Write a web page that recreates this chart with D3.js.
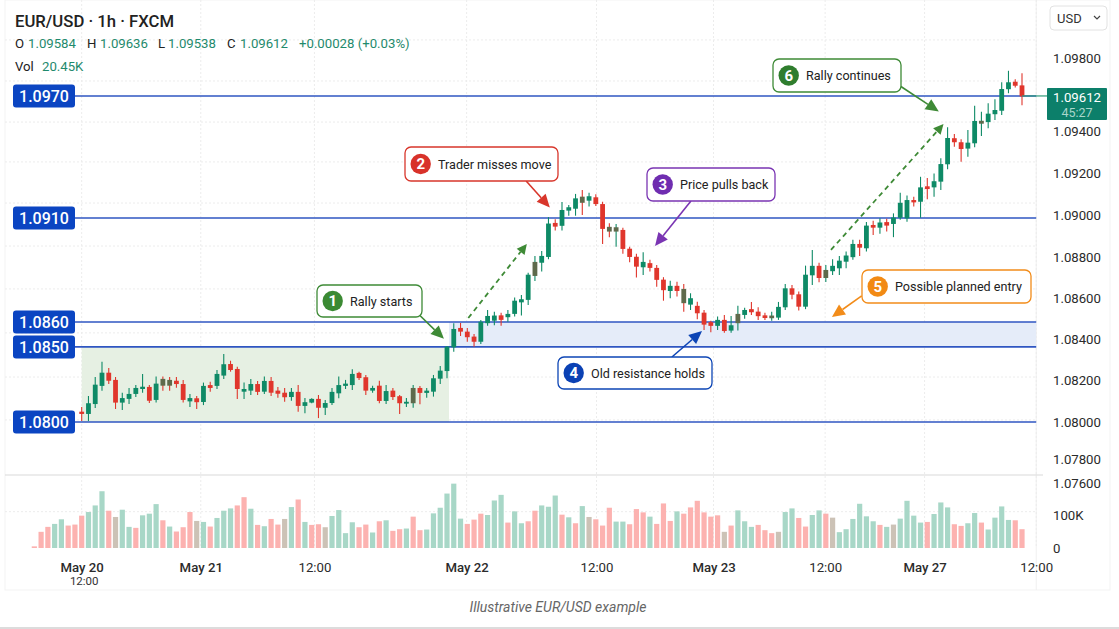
<!DOCTYPE html>
<html>
<head>
<meta charset="utf-8">
<script src="https://cdn.jsdelivr.net/npm/d3@7"></script>
<style>
  html, body { margin: 0; padding: 0; background: #fff; }
  svg { display: block; font-family: Roboto, sans-serif; }
</style>
</head>
<body>
<div id="graph"></div>
<script>
// candle prices are points above 1.08000 (1 point = 0.00001)
var basePrice = 1.08;

var candleOpen = [50,39,87,175,239,204,94,112,136,160,
  170,107,209,204,200,184,100,115,97,179,
  175,225,281,257,147,152,184,147,199,152,
  142,121,146,78,94,112,69,92,139,175,
  179,238,217,152,176,102,152,125,89,91,
  165,141,147,210,247,362,456,438,414,389,
  479,491,517,508,524,580,592,708,772,800,
  965,951,1024,1033,1090,1071,1087,1055,946,923,
  931,840,801,750,770,747,690,635,660,645,
  569,563,530,484,466,495,443,479,519,547,
  535,517,503,506,556,648,619,559,711,757,
  698,731,745,777,799,863,842,955,942,969,
  960,990,987,1074,1066,1139,1134,1161,1243,1366,
  1347,1317,1342,1440,1449,1492,1511,1629,1670,1650];

var candleClose = [39,91,181,239,200,94,116,136,165,171,
  103,186,176,176,184,107,116,96,175,165,
  233,280,252,160,160,184,146,199,142,137,
  120,146,78,96,112,69,92,146,179,186,
  233,213,152,165,102,150,121,91,98,165,
  141,152,212,249,365,451,438,411,389,486,
  514,516,495,524,588,595,714,776,805,962,
  947,1027,1040,1082,1061,1092,1055,936,923,944,
  839,800,753,776,747,689,639,660,635,576,
  600,527,472,466,495,441,469,524,543,532,
  513,504,516,558,648,617,559,714,757,698,
  737,757,782,807,863,845,952,942,967,952,
  991,1061,1074,1063,1134,1126,1163,1244,1367,1347,
  1315,1345,1455,1456,1495,1515,1630,1667,1648,1590];

var candleHigh = [73,126,218,292,262,218,142,165,179,233,
  179,220,220,218,218,204,136,126,191,195,
  252,330,297,268,191,209,199,220,218,170,
  165,165,179,116,115,131,107,165,220,204,
  256,244,228,176,200,179,165,131,116,179,
  175,165,228,272,369,479,480,456,427,495,
  543,535,530,543,604,616,724,805,829,993,
  983,1065,1051,1103,1122,1109,1101,1066,964,960,
  942,850,815,823,786,761,702,685,680,669,
  624,583,543,491,511,519,514,563,554,582,
  556,530,535,582,669,664,632,758,834,772,
  761,789,805,826,883,883,970,976,988,985,
  1011,1109,1095,1090,1184,1178,1200,1271,1420,1386,
  1361,1405,1539,1506,1552,1574,1667,1730,1683,1716];

var candleLow = [5,5,68,152,184,63,58,87,121,142,
  92,94,152,152,166,94,73,63,82,147,
  160,209,244,112,112,131,131,136,126,118,
  98,103,50,42,91,19,34,82,115,160,
  155,204,131,142,91,87,107,39,73,69,
  86,118,123,184,212,341,417,389,365,378,
  467,469,467,486,511,516,567,684,729,789,
  928,928,1000,1000,1003,1043,1046,863,896,850,
  815,774,701,713,729,656,588,600,608,535,
  543,498,446,435,446,433,433,443,500,519,
  495,495,491,495,543,595,540,547,664,678,
  679,713,713,745,786,805,826,907,912,923,
  896,980,971,1043,990,1078,1090,1122,1219,1326,
  1255,1279,1323,1377,1415,1460,1488,1607,1639,1541];

// candles that read brownish in the picture, by index
var brownCandles = [12,13,49,67,74,78,79,89,97,102,110,133];

// volume in thousands, the last bar sits under the last candle
var volumes = [5,49,64,73,87,68,71,98,109,129,
  172,113,94,116,64,61,99,104,133,84,
  65,50,63,109,82,79,65,91,113,120,
  129,154,119,70,66,88,71,88,124,147,
  79,70,72,63,97,115,45,78,63,71,
  47,81,
  84,52,57,59,95,54,56,105,122,165,
  195,89,73,86,104,100,144,161,77,111,
  75,81,113,129,125,159,101,93,75,127,
  94,87,68,122,80,80,72,118,108,95,
  73,135,82,111,104,123,143,108,95,99,
  49,68,114,81,64,
  70,54,45,49,109,120,91,65,100,114,
  104,92,48,57,88,134,96,81,70,64,
  71,89,143,98,77,79,103,138,123,72,
  67,75,106,77,56,92,126,85,84,57];

// one letter per volume bar: g green, r red, m muted
var volumeTint = "rrrggrrrgg" + "grmggrgggr" + "grrrmgrggg" + "rrgrgrrmgr" + "grrmggggrr" + "gr" +
  "grrgrrgggg" + "ggrrrgggrg" + "grrgggrgrg" + "mrrrggrrrg" + "rrrgrrrrrr" + "mrggg" +
  "rrrmggrrgg" + "rmggggggrg" + "mggggrgggr" + "rggrggggrr";

var priceTicks = [1.076,1.078,1.08,1.082,1.084,1.086,1.088,1.09,1.092,1.094,1.098];
var gridPoints = [10,218,432,645,853,1060,1254,1449,1674,1899];
var volumeTicks = [0,100];

var levelPoints = [1592,989,485,364,0];
var levelLabels = ["1.0970","1.0910","1.0860","1.0850","1.0800"];

var timeTickIndex = [0,17.6,34.4,56.9,76.1,93.4,109.9,124.6,141.1];
var timeTickLabels = ["May 20","May 21","12:00","May 22","12:00","May 23","12:00","May 27","12:00"];

var calloutTexts = ["Rally starts","Trader misses move","Price pulls back","Old resistance holds","Possible planned entry","Rally continues"];
var calloutColors = ["#3e8a36","#d8362b","#7a35b3","#0d45b5","#f28c1a","#3e8a36"];
var calloutFills = ["#3b8a33","#d8322a","#6f2db0","#0b41b4","#f28a14","#2f7d2e"];
// callout boxes: left, top, right, bottom on the page
var calloutBoxes = [[317,285,422,317],[405,147,558,181],[647,168,775,201],[558,357,712,389],[862,270,1031,303],[773,59,901,92]];
// arrows run candle index / points to candle index / points
var calloutArrows = [[50,516,53.55,403],[65.7,1164,69.2,1039],[90.06,1070,84.75,853],[87.25,315,91.7,441],[115.3,611,110.9,509],[121.1,1644,126.7,1507]];
var dashedArrows = [[57.15,504,65.8,863],[110.76,834,127.4,1438]];

var width = 1119, height = 629;

var svg = d3.select("#graph").append("svg")
  .attr("width", width)
  .attr("height", height);

// price axis labels are not evenly spaced in the picture
var y = d3.scaleLinear()
  .domain([1.076,1.078,1.08,1.09,1.092,1.094,1.098])
  .range([483,459,422,215.7,173.4,131,58]);
function yp(points) { return y(basePrice + points / 100000); }

var x = d3.scaleLinear().domain([0,139]).range([81.7,1022]);
var yVol = d3.scaleLinear().domain([0,100]).range([548,515]);

var rightEdge = x(141.1);

// panel frame
svg.append("rect").attr("x",5).attr("y",0).attr("width",1105).attr("height",590)
  .attr("fill","#fff").attr("stroke","#f3f3f3");
svg.append("line").attr("x1",0).attr("x2",width).attr("y1",628).attr("y2",628)
  .attr("stroke","#dcdcdc").attr("stroke-width",2);
svg.append("line").attr("x1",rightEdge).attr("x2",rightEdge).attr("y1",0).attr("y2",590)
  .attr("stroke","#f0f0f0");

// grid
svg.append("g").selectAll("line").data(gridPoints).join("line")
  .attr("x1",5).attr("x2",rightEdge)
  .attr("y1",function(d){ return yp(d); }).attr("y2",function(d){ return yp(d); })
  .attr("stroke","#ececec").attr("stroke-dasharray","2,2");
svg.append("line").attr("x1",5).attr("x2",rightEdge)
  .attr("y1",yVol(110)).attr("y2",yVol(110))
  .attr("stroke","#ececec").attr("stroke-dasharray","2,2");
svg.append("g").selectAll("line").data(timeTickIndex).join("line")
  .attr("x1",function(d){ return x(d); }).attr("x2",function(d){ return x(d); })
  .attr("y1",0).attr("y2",548)
  .attr("stroke","#ececec").attr("stroke-dasharray","2,2");

// zones
var zoneSplit = 54.3;
svg.append("rect").attr("x",x(0)).attr("width",x(zoneSplit)-x(0))
  .attr("y",yp(364)).attr("height",yp(0)-yp(364))
  .attr("fill","#e6f0e3");
svg.append("rect").attr("x",x(zoneSplit)).attr("width",rightEdge-x(zoneSplit))
  .attr("y",yp(485)).attr("height",yp(364)-yp(485))
  .attr("fill","#e5ecf9");

// divider between price and volume
svg.append("line").attr("x1",5).attr("x2",1043).attr("y1",475).attr("y2",475)
  .attr("stroke","#d9d9d9").attr("stroke-width",1.2);

// volume bars
var volOffset = volumes.length - candleOpen.length;
var volColor = {g:"#a3d5c4", r:"#fcaeac", m:"#c9bfb2"};
svg.append("g").selectAll("rect").data(volumes).join("rect")
  .attr("x",function(d,i){ return x(i - volOffset) - 2.6; })
  .attr("width",5.2)
  .attr("y",function(d){ return yVol(d); })
  .attr("height",function(d){ return yVol(0) - yVol(d); })
  .attr("fill",function(d,i){ return volColor[volumeTint.charAt(i)] || volColor.g; })
  .attr("opacity",0.95);

// levels
var levels = svg.append("g");
levels.selectAll("line").data(levelPoints).join("line")
  .attr("x1",70).attr("x2",rightEdge)
  .attr("y1",function(d){ return yp(d); }).attr("y2",function(d){ return yp(d); })
  .attr("stroke","#2f56c2").attr("stroke-width",1.6);

// candles
var upColor = "#0e8a66", downColor = "#e0362c", brownColor = "#5f6a4c";
var candles = svg.append("g").selectAll("g").data(candleOpen).join("g");
function candleColor(d,i) {
  if (brownCandles.indexOf(i) >= 0) return brownColor;
  return candleClose[i] >= d ? upColor : downColor;
}
candles.append("line")
  .attr("x1",function(d,i){ return x(i); }).attr("x2",function(d,i){ return x(i); })
  .attr("y1",function(d,i){ return yp(candleHigh[i]); })
  .attr("y2",function(d,i){ return yp(candleLow[i]); })
  .attr("stroke",function(d,i){ return candleClose[i] >= d ? upColor : downColor; })
  .attr("stroke-width",1.1);
candles.append("rect")
  .attr("x",function(d,i){ return x(i) - 2.4; })
  .attr("width",4.8)
  .attr("y",function(d,i){ return Math.min(yp(d), yp(candleClose[i])); })
  .attr("height",function(d,i){ return Math.max(1.5, Math.abs(yp(d) - yp(candleClose[i]))); })
  .attr("fill",candleColor);

// level tags
var tags = svg.append("g").selectAll("g").data(levelPoints).join("g")
  .attr("transform",function(d){ return "translate(13," + yp(d) + ")"; });
tags.append("rect").attr("x",0).attr("y",-11.5).attr("width",62).attr("height",23).attr("rx",3)
  .attr("fill","#0b45c2");
tags.append("text").attr("x",31).attr("y",0).attr("dy","0.36em")
  .attr("text-anchor","middle").attr("fill","#fff")
  .style("font-size","16px").style("font-weight",500)
  .text(function(d,i){ return levelLabels[i]; });

// axes
var priceAxis = svg.append("g").attr("transform","translate(1053,0)")
  .call(d3.axisRight(y).tickValues(priceTicks).tickSize(0).tickPadding(0)
    .tickFormat(d3.format(".5f")));
var volAxis = svg.append("g").attr("transform","translate(1053,0)")
  .call(d3.axisRight(yVol).tickValues(volumeTicks).tickSize(0).tickPadding(0)
    .tickFormat(function(d){ return d == 0 ? "0" : d + "K"; }));
var timeAxis = svg.append("g").attr("transform","translate(0,567)")
  .call(d3.axisBottom(x).tickValues(timeTickIndex).tickSize(0).tickPadding(0)
    .tickFormat(function(d,i){ return timeTickLabels[i]; }));
[priceAxis,volAxis,timeAxis].forEach(function(a){
  a.select(".domain").remove();
  a.selectAll("text").attr("fill","#2b2b2b").style("font-size","13.2px").style("font-family","Roboto, sans-serif");
});
timeAxis.selectAll("text").attr("y",0).attr("dy","0.36em")
  .style("font-weight",function(d,i){ return timeTickLabels[i] == "12:00" ? 400 : 500; });
svg.append("text").attr("x",x(0)+2.5).attr("y",581).attr("dy","0.36em")
  .attr("text-anchor","middle").attr("fill","#333").style("font-size","11.5px").text("12:00");

// header
svg.append("text").attr("x",15).attr("y",21).attr("dy","0.36em").attr("fill","#222")
  .style("font-size","16.7px").style("font-weight",500).text("EUR/USD · 1h · FXCM");
var headerGreen = "#1f8a6d";
var ohlcLabels = ["O","H","L","C"], ohlcValues = ["1.09584","1.09636","1.09538","1.09612"];
var ohlcLabelX = [15,87,158,227], ohlcValueX = [28,100,168,240];
ohlcLabels.forEach(function(d,i){
  svg.append("text").attr("x",ohlcLabelX[i]).attr("y",43).attr("dy","0.36em").attr("fill","#222")
    .style("font-size","13.2px").text(d);
  svg.append("text").attr("x",ohlcValueX[i]).attr("y",43).attr("dy","0.36em").attr("fill",headerGreen)
    .style("font-size","13.2px").text(ohlcValues[i]);
});
svg.append("text").attr("x",299).attr("y",43).attr("dy","0.36em").attr("fill",headerGreen)
  .style("font-size","13.2px").text("+0.00028 (+0.03%)");
svg.append("text").attr("x",15).attr("y",66).attr("dy","0.36em").attr("fill","#222")
  .style("font-size","13.2px").text("Vol");
svg.append("text").attr("x",42).attr("y",66).attr("dy","0.36em").attr("fill",headerGreen)
  .style("font-size","13.2px").text("20.45K");

// currency button
svg.append("rect").attr("x",1050).attr("y",6).attr("width",57).attr("height",24).attr("rx",4)
  .attr("fill","#fff").attr("stroke","#e2e2e2");
svg.append("text").attr("x",1057).attr("y",18).attr("dy","0.36em").attr("fill","#333")
  .style("font-size","13px").text("USD");
svg.append("path").attr("d","M1094,16 l3,3 l3,-3").attr("fill","none").attr("stroke","#444").attr("stroke-width",1.2);

// last price tag
var lastTagY = yp(1592);
svg.append("line").attr("x1",x(139)).attr("x2",1047).attr("y1",lastTagY).attr("y2",lastTagY)
  .attr("stroke","#2f9a78").attr("stroke-width",1.2);
svg.append("rect").attr("x",1047).attr("y",88).attr("width",60).attr("height",32).attr("rx",1)
  .attr("fill","#0c7f6a");
svg.append("text").attr("x",1077).attr("y",97.5).attr("dy","0.36em").attr("text-anchor","middle")
  .attr("fill","#fff").style("font-size","13.2px").text("1.09612");
svg.append("text").attr("x",1077).attr("y",112).attr("dy","0.36em").attr("text-anchor","middle")
  .attr("fill","#a9d6ca").style("font-size","12.5px").text("45:27");

// arrows
function arrowHead(g, a, color, len, wid) {
  var x1 = x(a[0]), y1 = yp(a[1]), x2 = x(a[2]), y2 = yp(a[3]);
  var ang = Math.atan2(y2 - y1, x2 - x1);
  var bx = x2 - len * Math.cos(ang), by = y2 - len * Math.sin(ang);
  var nx = -Math.sin(ang) * wid / 2, ny = Math.cos(ang) * wid / 2;
  g.append("path")
    .attr("d","M" + x2 + "," + y2 + "L" + (bx + nx) + "," + (by + ny) + "L" + (bx - nx) + "," + (by - ny) + "Z")
    .attr("fill",color);
  return [bx, by];
}
var arrows = svg.append("g");
dashedArrows.forEach(function(a){
  var b = arrowHead(arrows, a, "#3e8a36", 10, 10);
  arrows.append("line").attr("x1",x(a[0])).attr("y1",yp(a[1])).attr("x2",b[0]).attr("y2",b[1])
    .attr("stroke","#3e8a36").attr("stroke-width",1.8).attr("stroke-dasharray","5,4");
});
calloutArrows.forEach(function(a,i){
  var b = arrowHead(arrows, a, calloutColors[i], 13, 12);
  arrows.append("line").attr("x1",x(a[0])).attr("y1",yp(a[1])).attr("x2",b[0]).attr("y2",b[1])
    .attr("stroke",calloutColors[i]).attr("stroke-width",1.6);
});

// callouts
var boxes = svg.append("g").selectAll("g").data(calloutTexts).join("g");
boxes.append("rect")
  .attr("x",function(d,i){ return calloutBoxes[i][0]; })
  .attr("y",function(d,i){ return calloutBoxes[i][1]; })
  .attr("width",function(d,i){ return calloutBoxes[i][2] - calloutBoxes[i][0]; })
  .attr("height",function(d,i){ return calloutBoxes[i][3] - calloutBoxes[i][1]; })
  .attr("rx",6)
  .attr("fill","#fff")
  .attr("stroke",function(d,i){ return calloutColors[i]; })
  .attr("stroke-width",1.3);
boxes.append("circle")
  .attr("cx",function(d,i){ return calloutBoxes[i][0] + 15.7; })
  .attr("cy",function(d,i){ return (calloutBoxes[i][1] + calloutBoxes[i][3]) / 2; })
  .attr("r",10.2)
  .attr("fill",function(d,i){ return calloutFills[i]; });
boxes.append("text")
  .attr("x",function(d,i){ return calloutBoxes[i][0] + 15.7; })
  .attr("y",function(d,i){ return (calloutBoxes[i][1] + calloutBoxes[i][3]) / 2; })
  .attr("dy","0.36em").attr("text-anchor","middle").attr("fill","#fff")
  .style("font-size","15px").style("font-weight",700)
  .text(function(d,i){ return i + 1; });
boxes.append("text")
  .attr("x",function(d,i){ return calloutBoxes[i][0] + 33; })
  .attr("y",function(d,i){ return (calloutBoxes[i][1] + calloutBoxes[i][3]) / 2; })
  .attr("dy","0.36em").attr("fill","#222")
  .style("font-size","12.6px")
  .text(function(d){ return d; });

// caption
svg.append("text").attr("x",558).attr("y",607).attr("dy","0.36em").attr("text-anchor","middle")
  .attr("fill","#666").style("font-size","14px").style("font-style","italic")
  .text("Illustrative EUR/USD example");
</script>
</body>
</html>
